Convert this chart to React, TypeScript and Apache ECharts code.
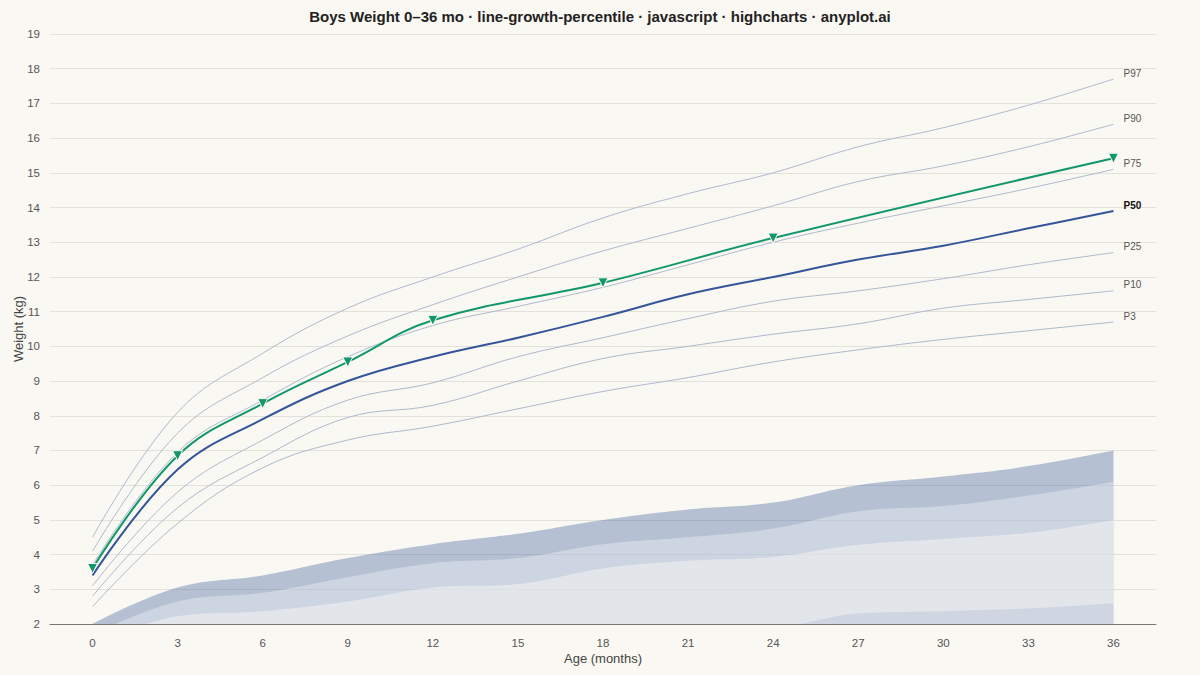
import { useEffect, useRef } from 'react'
import * as echarts from 'echarts'

// Age in months (x axis categories)
const ages = ['0', '3', '6', '9', '12', '15', '18', '21', '24', '27', '30', '33', '36']

// Percentile curves (kg)
const p3 = [2.5, 4.9, 6.5, 7.3, 7.7, 8.2, 8.7, 9.1, 9.55, 9.9, 10.2, 10.45, 10.7]
const p10 = [2.8, 5.35, 6.8, 7.95, 8.3, 9.0, 9.65, 10.0, 10.35, 10.65, 11.1, 11.35, 11.6]
const p25 = [3.1, 5.8, 7.3, 8.45, 8.95, 9.7, 10.25, 10.8, 11.3, 11.6, 11.95, 12.35, 12.7]
const p50 = [3.4, 6.45, 7.9, 9.0, 9.7, 10.25, 10.85, 11.5, 12.0, 12.5, 12.9, 13.4, 13.9]
const p75 = [3.7, 6.95, 8.45, 9.7, 10.6, 11.15, 11.7, 12.35, 13.0, 13.55, 14.05, 14.55, 15.1]
const p90 = [4.1, 7.5, 9.1, 10.3, 11.2, 12.0, 12.75, 13.4, 14.05, 14.75, 15.2, 15.75, 16.4]
const p97 = [4.5, 8.1, 9.8, 11.1, 12.0, 12.8, 13.7, 14.4, 15.0, 15.75, 16.3, 16.95, 17.7]

// Shaded band edges as they appear near the bottom of the plot
const bandOuter = [2.0, 3.05, 3.4, 3.9, 4.3, 4.6, 5.0, 5.3, 5.5, 6.0, 6.25, 6.55, 7.0]
const bandMiddle = [1.7, 2.65, 2.9, 3.35, 3.75, 3.9, 4.3, 4.5, 4.75, 5.25, 5.4, 5.7, 6.1]
const bandInner = [1.4, 2.22, 2.37, 2.65, 3.05, 3.15, 3.6, 3.82, 3.93, 4.28, 4.45, 4.63, 5.0]
const bandLow = [0.8, 1.1, 1.3, 1.4, 1.4, 1.6, 1.8, 1.85, 1.9, 2.3, 2.37, 2.45, 2.6]

// Patient measurements (null = no visit)
const patient = [3.6, 6.85, 8.35, 9.55, 10.75, null, 11.83, null, 13.12, null, null, null, 15.42]

const BG = '#faf8f2'
const FONT = '"Liberation Sans", Arial, sans-serif'

export default function App() {
  const chartRef = useRef<HTMLDivElement>(null)

  useEffect(() => {
    document.body.style.margin = '0'
    document.body.style.background = BG
    if (!chartRef.current) return

    const chart = echarts.init(chartRef.current, null, { renderer: 'svg' })

    const band = (name: string, data: number[], color: string) => ({
      name,
      type: 'line',
      data,
      smooth: 0.4,
      symbol: 'none',
      silent: true,
      z: 1,
      lineStyle: { width: 0 },
      areaStyle: { color, origin: 'start', opacity: 1 },
    })

    const pct = (name: string, data: number[], bold = false) => ({
      name,
      type: 'line',
      data,
      smooth: 0.4,
      symbol: 'none',
      z: bold ? 5 : 4,
      lineStyle: { width: bold ? 2 : 1, color: bold ? '#35559a' : '#adbacd' },
      endLabel: {
        show: true,
        formatter: name,
        distance: 10,
        offset: [0, -6],
        color: bold ? '#111' : '#555',
        fontWeight: bold ? 'bold' : 'normal',
        fontSize: 10,
        fontFamily: FONT,
      },
    })

    const option = {
      animation: false,
      backgroundColor: BG,
      textStyle: { fontFamily: FONT },
      title: {
        text: 'Boys Weight 0–36 mo · line-growth-percentile · javascript · highcharts · anyplot.ai',
        left: 'center',
        top: 4,
        textStyle: { fontSize: 15, fontWeight: 'bold', color: '#222', fontFamily: FONT },
      },
      grid: { left: 50, right: 44, top: 34, bottom: 51, outerBoundsMode: 'none', containLabel: false },
      xAxis: {
        type: 'category',
        data: ages,
        boundaryGap: true,
        name: 'Age (months)',
        nameLocation: 'middle',
        nameGap: 28,
        nameMoveOverlap: false,
        nameTextStyle: { fontSize: 13, color: '#444', fontFamily: FONT },
        axisTick: { show: false },
        axisLine: { lineStyle: { color: '#777', width: 1 } },
        axisLabel: { color: '#555', fontSize: 11.5, margin: 13, fontFamily: FONT },
        splitLine: { show: false },
      },
      yAxis: {
        type: 'value',
        min: 2,
        max: 19,
        interval: 1,
        name: 'Weight (kg)',
        nameLocation: 'middle',
        nameGap: 25,
        nameMoveOverlap: false,
        nameTextStyle: { fontSize: 13, color: '#444', fontFamily: FONT },
        axisLine: { show: false },
        axisTick: { show: false },
        axisLabel: { color: '#555', fontSize: 11.5, margin: 10, fontFamily: FONT },
        splitLine: { lineStyle: { color: '#e4e1da', width: 1 } },
      },
      series: [
        band('outer', bandOuter, 'rgba(52,88,156,0.35)'),
        band('middle', bandMiddle, 'rgba(255,255,255,0.34)'),
        band('inner', bandInner, 'rgba(250,250,245,0.45)'),
        band('low', bandLow, 'rgba(52,88,156,0.11)'),
        pct('P3', p3),
        pct('P10', p10),
        pct('P25', p25),
        pct('P50', p50, true),
        pct('P75', p75),
        pct('P90', p90),
        pct('P97', p97),
        {
          name: 'Patient',
          type: 'line',
          data: patient,
          connectNulls: true,
          smooth: 0.4,
          z: 6,
          symbol: 'triangle',
          symbolRotate: 180,
          symbolSize: 10,
          itemStyle: { color: '#12966b', borderColor: BG, borderWidth: 1 },
          lineStyle: { width: 2, color: '#12966b' },
        },
      ],
    }

    chart.setOption(option)

    return () => {
      chart.dispose()
    }
  }, [])

  return <div ref={chartRef} style={{ width: 1200, height: 675 }} />
}
